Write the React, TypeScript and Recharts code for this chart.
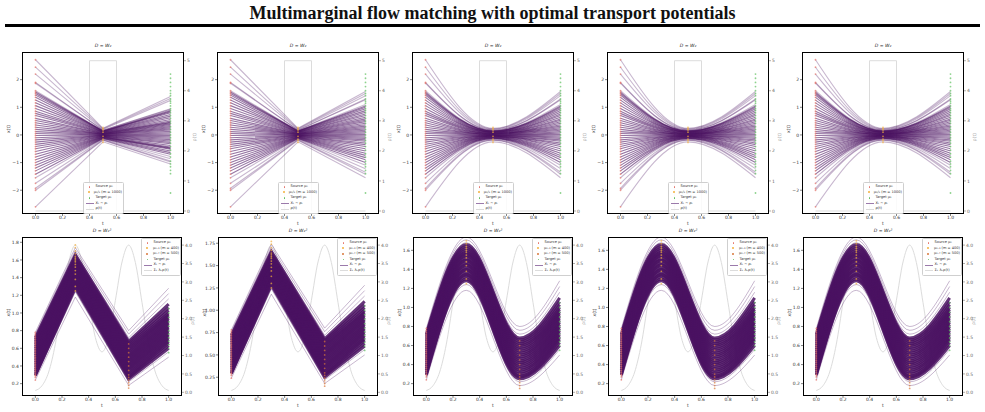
import React from 'react';
import { ComposedChart, Line, Scatter, XAxis, YAxis } from 'recharts';

// ---------- top row (D = W2), knots at t = 0, 0.5, 1 ----------
const topTimes = [0, 0.5, 1];
const topSource = [2.72, 2.45, 2.2, 1.9, 1.87, 1.6, 1.55, 1.5, 1.44, 1.36, 1.26, 1.16, 1.06, 0.96, 0.86, 0.78, 0.7, 0.6, 0.52, 0.44, 0.36, 0.28, 0.2, 0.12, 0.05, -0.02, -0.1, -0.18, -0.26, -0.34, -0.42, -0.5, -0.6, -0.7, -0.8, -0.9, -1.0, -1.1, -1.2, -1.3, -1.42, -1.55, -1.75, -1.93, -2.0, -2.6];
const topMid = [0.24, 0.22, 0.2, 0.17, 0.17, 0.15, 0.14, 0.14, 0.13, 0.12, 0.11, 0.1, 0.1, 0.09, 0.08, 0.07, 0.06, 0.05, 0.05, 0.04, 0.03, 0.03, 0.02, 0.01, 0.0, 0.0, -0.01, -0.02, -0.02, -0.03, -0.04, -0.05, -0.05, -0.06, -0.07, -0.08, -0.09, -0.1, -0.11, -0.12, -0.13, -0.14, -0.16, -0.18, -0.19, -0.25];
const topEndFirst = [1.39, 1.32, 1.25, 0.95, 0.93, 0.9, 0.87, 0.84, 0.8, 0.74, 0.68, 0.62, 0.56, 0.5, 0.46, 0.44, 0.41, 0.38, 0.34, 0.3, 0.26, 0.22, 0.18, 0.13, 0.08, 0.03, -0.02, -0.07, -0.12, -0.17, -0.22, -0.27, -0.32, -0.38, -0.44, -0.47, -0.49, -0.52, -0.58, -0.64, -0.7, -0.78, -0.86, -0.94, -0.98, -1.05];
const topEndOthers = [1.57, 1.5, 1.42, 1.3, 1.27, 1.1, 1.05, 1.0, 0.95, 0.88, 0.82, 0.76, 0.7, 0.64, 0.58, 0.53, 0.48, 0.42, 0.37, 0.32, 0.27, 0.22, 0.17, 0.12, 0.07, 0.02, -0.03, -0.08, -0.13, -0.18, -0.23, -0.29, -0.35, -0.42, -0.5, -0.58, -0.66, -0.74, -0.82, -0.9, -1.0, -1.1, -1.22, -1.35, -1.42, -1.55];
const topTargetPts = [2.2, 2.05, 1.9, 1.75, 1.6, 1.5, 1.42, 1.3, 1.22, 1.15, 1.05, 0.95, 0.88, 0.8, 0.7, 0.6, 0.5, 0.42, 0.3, 0.2, 0.1, 0.0, -0.1, -0.2, -0.3, -0.42, -0.55, -0.68, -0.8, -0.95, -1.05, -1.15, -1.28, -1.4, -2.1];
const topMidPts = [0.27, 0.22, 0.18, 0.1, -0.05, -0.15, -0.2, -0.27];
const topRhoT = [0, 0.4, 0.4, 0.6, 0.6, 1];
const topRhoV = [0, 0, 5, 5, 0, 0];
const topYTicks = [-2, -1, 0, 1, 2];
const topRTicks = [0, 1, 2, 3, 4, 5];

// ---------- bottom row (D = W2^2), knots at t = 0, 0.3, 0.7, 1 ----------
const botTimes = [0, 0.3, 0.7, 1];
const bot0 = [0.78, 0.76, 0.74, 0.72, 0.7, 0.68, 0.66, 0.64, 0.62, 0.6, 0.58, 0.56, 0.54, 0.52, 0.5, 0.48, 0.46, 0.44, 0.42, 0.4, 0.38, 0.36, 0.34, 0.32, 0.3, 0.29, 0.27, 0.24];
const bot3 = [1.74, 1.71, 1.68, 1.66, 1.64, 1.62, 1.6, 1.58, 1.57, 1.55, 1.54, 1.52, 1.5, 1.49, 1.47, 1.45, 1.44, 1.42, 1.4, 1.39, 1.37, 1.35, 1.34, 1.32, 1.3, 1.28, 1.24, 1.18];
const bot7 = [0.8, 0.76, 0.72, 0.68, 0.66, 0.64, 0.62, 0.6, 0.58, 0.56, 0.54, 0.52, 0.5, 0.48, 0.46, 0.44, 0.42, 0.4, 0.38, 0.36, 0.34, 0.32, 0.3, 0.28, 0.27, 0.25, 0.22, 0.18];
const bot1 = [1.28, 1.22, 1.16, 1.1, 1.06, 1.03, 1.0, 0.98, 0.96, 0.94, 0.92, 0.9, 0.88, 0.86, 0.84, 0.82, 0.8, 0.78, 0.76, 0.74, 0.72, 0.7, 0.68, 0.66, 0.63, 0.6, 0.56, 0.5];
const botMid3Pts = [1.77, 1.74, 1.7, 1.67, 1.64, 1.62, 1.6, 1.58, 1.55, 1.52, 1.48, 1.44, 1.38, 1.3, 1.25];
const botMid7Pts = [0.65, 0.6, 0.55, 0.5, 0.45, 0.4, 0.35, 0.3, 0.27, 0.24, 0.21, 0.18, 0.15];
const botTargetPts = [1.05, 1.0, 0.95, 0.9, 0.85, 0.8, 0.76, 0.72, 0.68, 0.64, 0.6, 0.55];
const botRhoT = [0, 0.05, 0.1, 0.15, 0.2, 0.25, 0.3, 0.35, 0.4, 0.45, 0.5, 0.55, 0.6, 0.65, 0.7, 0.75, 0.8, 0.85, 0.9, 0.95, 1];
const botRhoV = [0.05, 0.18, 0.55, 1.31, 2.44, 3.53, 4.0, 3.54, 2.49, 1.49, 1.1, 1.49, 2.49, 3.54, 4.0, 3.53, 2.44, 1.31, 0.55, 0.18, 0.05];
const botYTicksA = [0.2, 0.4, 0.6, 0.8, 1.0, 1.2, 1.4, 1.6, 1.8];
const botYTicksB = [0.25, 0.5, 0.75, 1.0, 1.25, 1.5, 1.75];
const botYTicksC = [0.2, 0.4, 0.6, 0.8, 1.0, 1.2, 1.4, 1.6];
const botRTicks = [0, 0.5, 1, 1.5, 2, 2.5, 3, 3.5, 4];

const xTicks = [0, 0.2, 0.4, 0.6, 0.8, 1.0];

const C_LINE = '#4a1261';
const C_SRC = '#e5736a';
const C_MID = '#f3b03c';
const C_MID2 = '#d9773a';
const C_TGT = '#5cbf5c';
const C_RHO = '#dcdcdc';
const FONT = 'DejaVu Sans';

const minus = (s: string) => s.replace('-', '\u2212');

function buildRows(times: number[], series: number[][]) {
  return times.map((t, k) => {
    const row: any = { t };
    series[0].forEach((_, i) => {
      row['l' + i] = series[k][i];
    });
    return row;
  });
}
const pts = (t: number, vals: number[]) => vals.map((y) => ({ t, y }));
const rhoData = (ts: number[], vs: number[]) => ts.map((t, i) => ({ t, r: vs[i] }));

const dot = (color: string) => (p: any) => <circle cx={p.cx} cy={p.cy} r={0.9} fill={color} fillOpacity={0.7} />;

type LegendItem = { kind: 'dot' | 'line'; color: string; label: string };

const topLegend: LegendItem[] = [
  { kind: 'dot', color: C_SRC, label: 'Source \u03bc\u2080' },
  { kind: 'dot', color: C_MID, label: '\u03bc\u2081/\u2082 (m = 1000)' },
  { kind: 'dot', color: C_TGT, label: 'Target \u03bc\u2081' },
  { kind: 'line', color: '#9b7aab', label: 'X\u209c \u223c \u03c1\u209c' },
  { kind: 'line', color: C_RHO, label: '\u03c1(t)' },
];
const botLegend: LegendItem[] = [
  { kind: 'dot', color: C_SRC, label: 'Source \u03bc\u2080' },
  { kind: 'dot', color: C_MID, label: '\u03bc\u2080.\u2083 (m = 400)' },
  { kind: 'dot', color: C_MID2, label: '\u03bc\u2080.\u2087 (m = 500)' },
  { kind: 'dot', color: C_TGT, label: 'Target \u03bc\u2081' },
  { kind: 'line', color: '#9b7aab', label: 'X\u209c \u223c \u03c1\u209c' },
  { kind: 'line', color: C_RHO, label: '\u03a3\u2096 \u03bb\u2096\u03c1(t)' },
];

type PanelCfg = {
  left: number; top: number; w: number; h: number;
  title: string;
  rows: any[]; n: number; curve: 'linear' | 'monotone';
  yDomain: [number, number]; yTicks: number[]; yFmt: (v: number) => string;
  rDomain: [number, number]; rTicks: number[]; rFmt: (v: number) => string;
  rho: any[]; rhoCurve: 'linear' | 'monotone';
  scatters: { data: any[]; color: string }[];
  legend: LegendItem[]; legendPos: { left: number; top: number; width: number };
  bottom: boolean;
};

function Legend({ items, pos }: { items: LegendItem[]; pos: { left: number; top: number; width: number } }) {
  return (
    <div style={{ position: 'absolute', left: pos.left, top: pos.top, width: pos.width, background: 'rgba(255,255,255,0.85)', border: '0.6px solid #cfcfcf', borderRadius: 1.5, padding: '1px 1px', boxSizing: 'border-box', fontFamily: FONT, fontSize: 3.6, color: '#333', lineHeight: '5.6px' }}>
      {items.map((it, i) => (
        <div key={i} style={{ display: 'flex', alignItems: 'center', height: 5.6, whiteSpace: 'nowrap' }}>
          <div style={{ width: 9, display: 'flex', justifyContent: 'center', alignItems: 'center' }}>
            {it.kind === 'dot' ? (
              <div style={{ width: 1.8, height: 1.8, borderRadius: 1, background: it.color }} />
            ) : (
              <div style={{ width: 8, height: 0.8, background: it.color }} />
            )}
          </div>
          <span style={{ marginLeft: 1.5 }}>{it.label}</span>
        </div>
      ))}
    </div>
  );
}

function Panel({ c }: { c: PanelCfg }) {
  const W = c.w + 46;
  const H = c.h + 16;
  const lines = [];
  for (let i = 0; i < c.n; i++) {
    const edge = c.bottom ? (i < 3 || i >= c.n - 2) : (i < 6 || i >= c.n - 5);
    lines.push(
      <Line
        key={'l' + i}
        yAxisId="left"
        dataKey={'l' + i}
        type={c.curve}
        stroke={C_LINE}
        strokeOpacity={c.bottom ? (edge ? 0.3 : 0.85) : (edge ? 0.3 : 0.58)}
        strokeWidth={c.bottom ? (edge ? 1 : 3) : 1.1}
        dot={false}
        activeDot={false}
        isAnimationActive={false}
      />
    );
  }
  return (
    <>
      <div style={{ position: 'absolute', left: c.left, top: c.top - 9, width: c.w, textAlign: 'center', fontFamily: FONT, fontSize: 4.6, fontStyle: 'italic', color: '#222' }}>
        {c.title}
      </div>
      <div style={{ position: 'absolute', left: c.left - 20, top: c.top - 4, width: W, height: H }}>
        <ComposedChart width={W} height={H} data={c.rows} margin={{ top: 4, right: 6, bottom: 0, left: 0 }}>
          <XAxis
            type="number"
            dataKey="t"
            domain={[-0.1, 1.1]}
            ticks={xTicks}
            allowDataOverflow
            tickFormatter={(v: number) => v.toFixed(1)}
            height={12}
            tickSize={2}
            tickMargin={0}
            axisLine={false}
            tickLine={{ stroke: '#333', strokeWidth: 0.6 }}
            tick={{ fontSize: 4.5, fill: '#333', fontFamily: FONT }}
            label={{ value: 't', position: 'insideBottom', offset: 1, fontSize: 4.5, fill: '#333', fontFamily: FONT }}
          />
          <YAxis
            yAxisId="left"
            type="number"
            domain={c.yDomain}
            ticks={c.yTicks}
            allowDataOverflow
            tickFormatter={c.yFmt}
            width={20}
            tickSize={2}
            tickMargin={1}
            axisLine={false}
            tickLine={{ stroke: '#333', strokeWidth: 0.6 }}
            tick={{ fontSize: 4.5, fill: '#333', fontFamily: FONT }}
            label={{ value: 'x(t)', angle: -90, position: 'insideLeft', offset: 6, fontSize: 4.5, fill: '#333', fontFamily: FONT }}
          />
          <YAxis
            yAxisId="right"
            orientation="right"
            type="number"
            domain={c.rDomain}
            ticks={c.rTicks}
            allowDataOverflow
            tickFormatter={c.rFmt}
            width={20}
            tickSize={2}
            tickMargin={1}
            axisLine={false}
            tickLine={{ stroke: '#777', strokeWidth: 0.6 }}
            tick={{ fontSize: 4.5, fill: '#666', fontFamily: FONT }}
            label={{ value: '\u03c1(t)', angle: -90, position: 'insideRight', offset: 10, fontSize: 4.5, fill: '#999', fontFamily: FONT }}
          />
          <Line
            yAxisId="right"
            data={c.rho}
            dataKey="r"
            type={c.rhoCurve}
            stroke={C_RHO}
            strokeWidth={1}
            dot={false}
            activeDot={false}
            isAnimationActive={false}
          />
          {lines}
          {c.scatters.map((s, i) => (
            <Scatter key={'s' + i} yAxisId="left" data={s.data} dataKey="y" shape={dot(s.color)} isAnimationActive={false} />
          ))}
        </ComposedChart>
        <div style={{ position: 'absolute', left: 20, top: 4, width: c.w, height: c.h, border: '1.8px solid #000', boxSizing: 'border-box', pointerEvents: 'none' }} />
        <div style={{ position: 'absolute', left: 20, top: 4, width: c.w, height: c.h, pointerEvents: 'none' }}>
          <Legend items={c.legend} pos={c.legendPos} />
        </div>
      </div>
    </>
  );
}

const topLefts = [22, 217, 412, 607, 802];
const botLefts = [22, 218, 413, 608, 803];

const topPanels: PanelCfg[] = topLefts.map((left, p) => {
  const end = p === 0 ? topEndFirst : topEndOthers;
  return {
    left, top: 52, w: 162, h: 162,
    title: 'D = W\u2082',
    rows: buildRows(topTimes, [topSource, topMid, end]),
    n: topSource.length,
    curve: p >= 2 ? 'monotone' : 'linear',
    yDomain: [-2.86, 3.0], yTicks: topYTicks, yFmt: (v: number) => minus(String(v)),
    rDomain: [-0.1, 5.29], rTicks: topRTicks, rFmt: (v: number) => String(v),
    rho: rhoData(topRhoT, topRhoV), rhoCurve: 'linear',
    scatters: [
      { data: pts(0, topSource), color: C_SRC },
      { data: pts(0.5, topMidPts), color: C_MID },
      { data: pts(1, topTargetPts), color: C_TGT },
    ],
    legend: topLegend, legendPos: { left: 61, top: 130, width: 41 },
    bottom: false,
  };
});

const botDomains: [number, number][] = [[0.06, 1.86], [0.04, 1.82], [0.07, 1.74], [0.07, 1.74], [0.07, 1.74]];
const botTicks = [botYTicksA, botYTicksB, botYTicksC, botYTicksC, botYTicksC];

const botPanels: PanelCfg[] = botLefts.map((left, p) => ({
  left, top: 237, w: 160, h: 159,
  title: 'D = W\u2082\u00b2',
  rows: buildRows(botTimes, [bot0, bot3, bot7, bot1]),
  n: bot0.length,
  curve: p >= 2 ? 'monotone' : 'linear',
  yDomain: botDomains[p], yTicks: botTicks[p],
  yFmt: p === 1 ? (v: number) => v.toFixed(2) : (v: number) => v.toFixed(1),
  rDomain: [-0.1, 4.22], rTicks: botRTicks, rFmt: (v: number) => v.toFixed(1),
  rho: rhoData(botRhoT, botRhoV), rhoCurve: 'monotone',
  scatters: [
    { data: pts(0, bot0), color: C_SRC },
    { data: pts(0.3, botMid3Pts), color: C_MID },
    { data: pts(0.7, botMid7Pts), color: C_MID2 },
    { data: pts(1, botTargetPts), color: C_TGT },
  ],
  legend: botLegend, legendPos: { left: 119, top: 1, width: 40 },
  bottom: true,
}));

export default function App() {
  return (
    <div style={{ position: 'absolute', left: 0, top: 0, width: 985, height: 412, background: '#fff', overflow: 'hidden' }}>
      <div style={{ position: 'absolute', left: 0, top: 3, width: 985, textAlign: 'center', fontFamily: 'Liberation Serif', fontWeight: 'bold', fontSize: 18, color: '#111' }}>
        Multimarginal flow matching with optimal transport potentials
      </div>
      <div style={{ position: 'absolute', left: 5, top: 24, width: 975, height: 2.5, background: '#000' }} />
      {topPanels.map((c, i) => <Panel key={'t' + i} c={c} />)}
      {botPanels.map((c, i) => <Panel key={'b' + i} c={c} />)}
    </div>
  );
}
